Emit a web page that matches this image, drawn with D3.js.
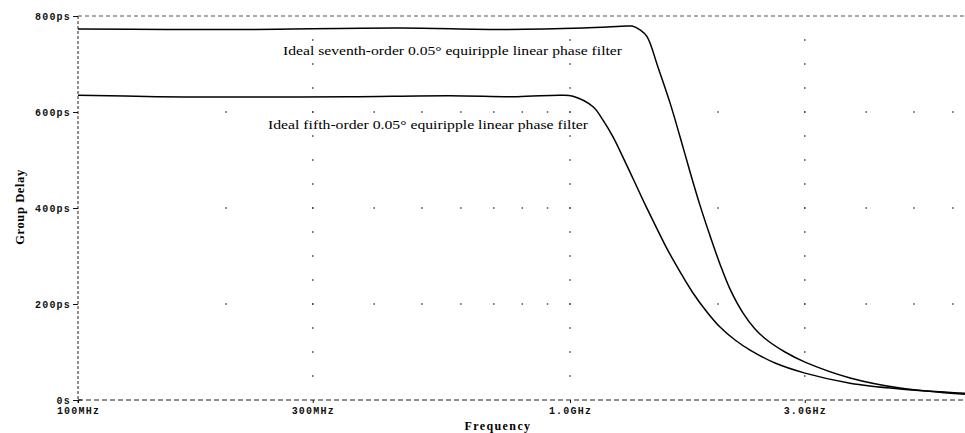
<!DOCTYPE html>
<html>
<head>
<meta charset="utf-8">
<script src="https://cdn.jsdelivr.net/npm/d3@7"></script>
<style>
  body { margin: 0; background: #fff; }
  svg { display: block; }
  .tick text { font-family: "Liberation Mono", monospace; font-weight: bold; font-size: 10px; letter-spacing: 1.2px; fill: #111; }
  .tick line { stroke: #111; }
</style>
</head>
<body>
<svg id="chart" width="965" height="433"></svg>
<script>
// frequency in MHz, group delay in ps
var seventhFreq = [100, 152, 224, 451, 721, 1063, 1306, 1337, 1388, 1434, 1511, 1597, 1674, 1754, 1837, 1926, 2018, 2115, 2248, 2377, 2513, 2735, 3004, 3709, 4688, 6350];
var seventhDelay = [773, 772, 772, 775, 772, 775, 779, 779, 771, 757, 692, 619, 548, 475, 406, 342, 283, 231, 181, 148, 125, 100, 79, 46, 25, 12];

var fifthFreq = [100, 145, 207, 357, 570, 780, 955, 1014, 1114, 1167, 1223, 1281, 1356, 1420, 1489, 1575, 1674, 1778, 1900, 2018, 2165, 2323, 2611, 3004, 3709, 4688, 6350];
var fifthDelay = [635, 632, 631, 632, 634, 632, 635, 633, 611, 583, 548, 506, 452, 408, 365, 315, 267, 223, 183, 152, 125, 104, 77, 56, 35, 23, 14];

var xTicks = [100, 300, 1000, 3000];
var xTickLabels = ["100MHz", "300MHz", "1.0GHz", "3.0GHz"];
var xMinor = [200, 400, 500, 600, 700, 800, 900, 2000, 4000, 5000, 6000];
var yTicks = [0, 200, 400, 600, 800];
var yTickLabels = ["0s", "200ps", "400ps", "600ps", "800ps"];

var svg = d3.select("#chart");

var x = d3.scaleLog().domain([100, 10000]).range([78, 78 + 492 * 2]);
var y = d3.scaleLinear().domain([0, 800]).range([400, 16]);
var xRight = 965;

// dotted grid, PSpice style
var grid = svg.append("g").attr("fill", "#444");
// rows at the y ticks, dots at every x tick
[200, 400, 600].forEach(function (v) {
    xTicks.slice(1).concat(xMinor).forEach(function (f) {
        grid.append("rect")
            .attr("x", x(f) - 0.75).attr("y", y(v) - 0.75)
            .attr("width", 1.5).attr("height", 1.5);
    });
});
// columns at the major x ticks, a dot every 50ps
xTicks.slice(1).forEach(function (f) {
    d3.range(50, 800, 50).forEach(function (v) {
        grid.append("rect")
            .attr("x", x(f) - 0.75).attr("y", y(v) - 0.75)
            .attr("width", 1.5).attr("height", 1.5);
    });
});

// dashed frame
svg.append("line")
    .attr("x1", x(100)).attr("x2", xRight)
    .attr("y1", y(800)).attr("y2", y(800))
    .attr("stroke", "#555").attr("stroke-dasharray", "4,3");
svg.append("line")
    .attr("x1", x(100)).attr("x2", xRight)
    .attr("y1", y(0)).attr("y2", y(0))
    .attr("stroke", "#222").attr("stroke-dasharray", "5,3");
svg.append("line")
    .attr("x1", x(100)).attr("x2", x(100))
    .attr("y1", y(800)).attr("y2", y(0) + 3)
    .attr("stroke", "#222").attr("stroke-dasharray", "3,2");

// axes
var yAxis = d3.axisLeft(y)
    .tickValues(yTicks)
    .tickFormat(function (d, i) { return yTickLabels[i]; })
    .tickSize(5)
    .tickPadding(2);
svg.append("g")
    .attr("transform", "translate(" + x(100) + ",0)")
    .call(yAxis)
    .call(function (g) { g.select(".domain").remove(); });

var xAxis = d3.axisBottom(x)
    .tickValues(xTicks)
    .tickFormat(function (d, i) { return xTickLabels[i]; })
    .tickSize(3)
    .tickPadding(4);
svg.append("g")
    .attr("transform", "translate(0," + y(0) + ")")
    .call(xAxis)
    .call(function (g) { g.select(".domain").remove(); });

// the 0s cross
svg.append("line")
    .attr("x1", x(100)).attr("x2", x(100) + 4)
    .attr("y1", y(0)).attr("y2", y(0))
    .attr("stroke", "#111");

// curves
var line = d3.line()
    .x(function (d) { return x(d[0]); })
    .y(function (d) { return y(d[1]); })
    .curve(d3.curveCatmullRom.alpha(0.5));

svg.append("path")
    .datum(d3.zip(seventhFreq, seventhDelay))
    .attr("fill", "none").attr("stroke", "#000").attr("stroke-width", 1.5)
    .attr("d", line);
svg.append("path")
    .datum(d3.zip(fifthFreq, fifthDelay))
    .attr("fill", "none").attr("stroke", "#000").attr("stroke-width", 1.5)
    .attr("d", line);

// annotations
svg.append("text")
    .attr("x", 283).attr("y", 55)
    .attr("textLength", 339).attr("lengthAdjust", "spacingAndGlyphs")
    .style("font-family", "'Liberation Serif', serif").style("font-size", "12px")
    .text("Ideal seventh-order 0.05\u00b0 equiripple linear phase filter");
svg.append("text")
    .attr("x", 268).attr("y", 129)
    .attr("textLength", 320).attr("lengthAdjust", "spacingAndGlyphs")
    .style("font-family", "'Liberation Serif', serif").style("font-size", "12px")
    .text("Ideal fifth-order 0.05\u00b0 equiripple linear phase filter");

// axis titles
svg.append("text")
    .attr("transform", "translate(24,207) rotate(-90)")
    .attr("text-anchor", "middle")
    .style("font-family", "'Liberation Serif', serif").style("font-size", "12.5px").style("font-weight", "bold")
    .style("letter-spacing", "0.6px")
    .text("Group Delay");
svg.append("text")
    .attr("x", 498).attr("y", 430)
    .attr("text-anchor", "middle")
    .style("font-family", "'Liberation Serif', serif").style("font-size", "12px").style("font-weight", "bold")
    .style("letter-spacing", "1.4px")
    .text("Frequency");
</script>
</body>
</html>
